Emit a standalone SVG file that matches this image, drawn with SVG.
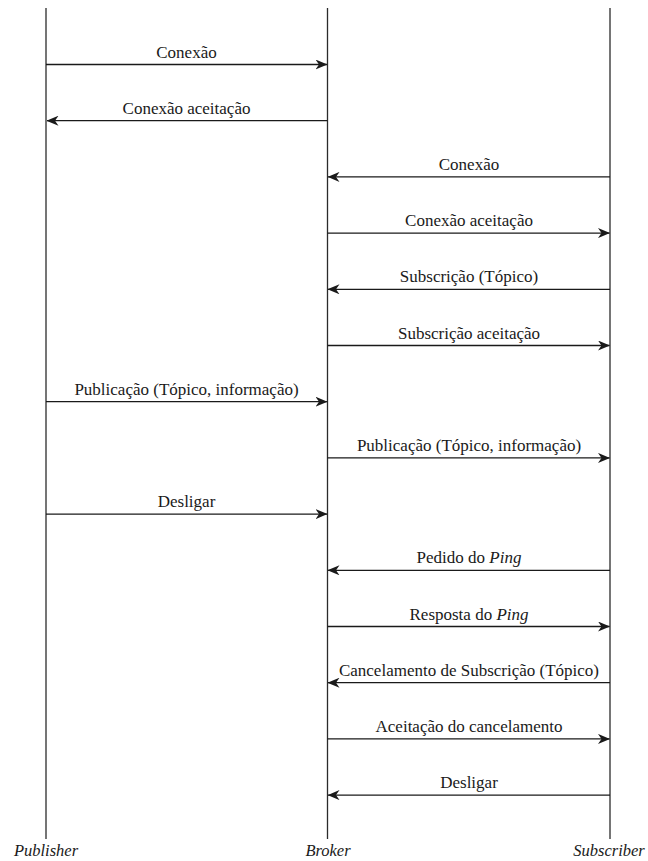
<svg xmlns="http://www.w3.org/2000/svg" width="648" height="861" viewBox="0 0 648 861">
  <defs>
    <marker id="arrow" viewBox="0 0 12 10" refX="11.5" refY="5" markerWidth="12" markerHeight="10" markerUnits="userSpaceOnUse" orient="auto">
      <path d="M12,5 L0,0 L3.5,5 L0,10 Z" fill="#1a1a1a"/>
    </marker>
  </defs>

  <!-- lifelines -->
  <g id="publisher">
    <line x1="46" y1="8" x2="46" y2="839" stroke="#2b2b2b" stroke-width="1.3"/>
    <text x="46" y="856" font-family="Liberation Serif" font-size="16.5" font-style="italic" text-anchor="middle" fill="#1a1a1a">Publisher</text>
  </g>
  <g id="broker">
    <line x1="327.5" y1="8" x2="327.5" y2="839" stroke="#2b2b2b" stroke-width="1.3"/>
    <text x="328" y="856" font-family="Liberation Serif" font-size="16.5" font-style="italic" text-anchor="middle" fill="#1a1a1a">Broker</text>
  </g>
  <g id="subscriber">
    <line x1="610" y1="8" x2="610" y2="839" stroke="#2b2b2b" stroke-width="1.3"/>
    <text x="609" y="856" font-family="Liberation Serif" font-size="16.5" font-style="italic" text-anchor="middle" fill="#1a1a1a">Subscriber</text>
  </g>

  <!-- messages -->
  <g id="connectors" stroke="#1a1a1a" stroke-width="1.3" marker-end="url(#arrow)">
    <line x1="46" y1="64.5" x2="327" y2="64.5"/>
    <line x1="327.5" y1="120.7" x2="47" y2="120.7"/>
    <line x1="610" y1="176.9" x2="328" y2="176.9"/>
    <line x1="327.5" y1="233.1" x2="609.5" y2="233.1"/>
    <line x1="610" y1="289.3" x2="328" y2="289.3"/>
    <line x1="327.5" y1="345.5" x2="609.5" y2="345.5"/>
    <line x1="46" y1="401.7" x2="327" y2="401.7"/>
    <line x1="327.5" y1="457.9" x2="609.5" y2="457.9"/>
    <line x1="46" y1="514.1" x2="327" y2="514.1"/>
    <line x1="610" y1="570.3" x2="328" y2="570.3"/>
    <line x1="327.5" y1="626.5" x2="609.5" y2="626.5"/>
    <line x1="610" y1="682.7" x2="328" y2="682.7"/>
    <line x1="327.5" y1="738.9" x2="609.5" y2="738.9"/>
    <line x1="610" y1="795.1" x2="328" y2="795.1"/>
  </g>

  <!-- message labels -->
  <g id="labels" fill="#1a1a1a" text-anchor="middle">
    <text x="186.5" y="57.5" font-family="Liberation Serif" font-size="17">Conexão</text>
    <text x="186.5" y="113.7" font-family="Liberation Serif" font-size="17">Conexão aceitação</text>
    <text x="469" y="169.9" font-family="Liberation Serif" font-size="17">Conexão</text>
    <text x="469" y="226.1" font-family="Liberation Serif" font-size="17">Conexão aceitação</text>
    <text x="469" y="282.3" font-family="Liberation Serif" font-size="17">Subscrição (Tópico)</text>
    <text x="469" y="338.5" font-family="Liberation Serif" font-size="17">Subscrição aceitação</text>
    <text x="186.5" y="394.7" font-family="Liberation Serif" font-size="17">Publicação (Tópico, informação)</text>
    <text x="469" y="450.9" font-family="Liberation Serif" font-size="17">Publicação (Tópico, informação)</text>
    <text x="186.5" y="507.1" font-family="Liberation Serif" font-size="17">Desligar</text>
    <text x="469" y="563.3" font-family="Liberation Serif" font-size="17">Pedido do <tspan font-style="italic">Ping</tspan></text>
    <text x="469" y="619.5" font-family="Liberation Serif" font-size="17">Resposta do <tspan font-style="italic">Ping</tspan></text>
    <text x="469" y="675.7" font-family="Liberation Serif" font-size="17">Cancelamento de Subscrição (Tópico)</text>
    <text x="469" y="731.9" font-family="Liberation Serif" font-size="17">Aceitação do cancelamento</text>
    <text x="469" y="788.1" font-family="Liberation Serif" font-size="17">Desligar</text>
  </g>
</svg>
